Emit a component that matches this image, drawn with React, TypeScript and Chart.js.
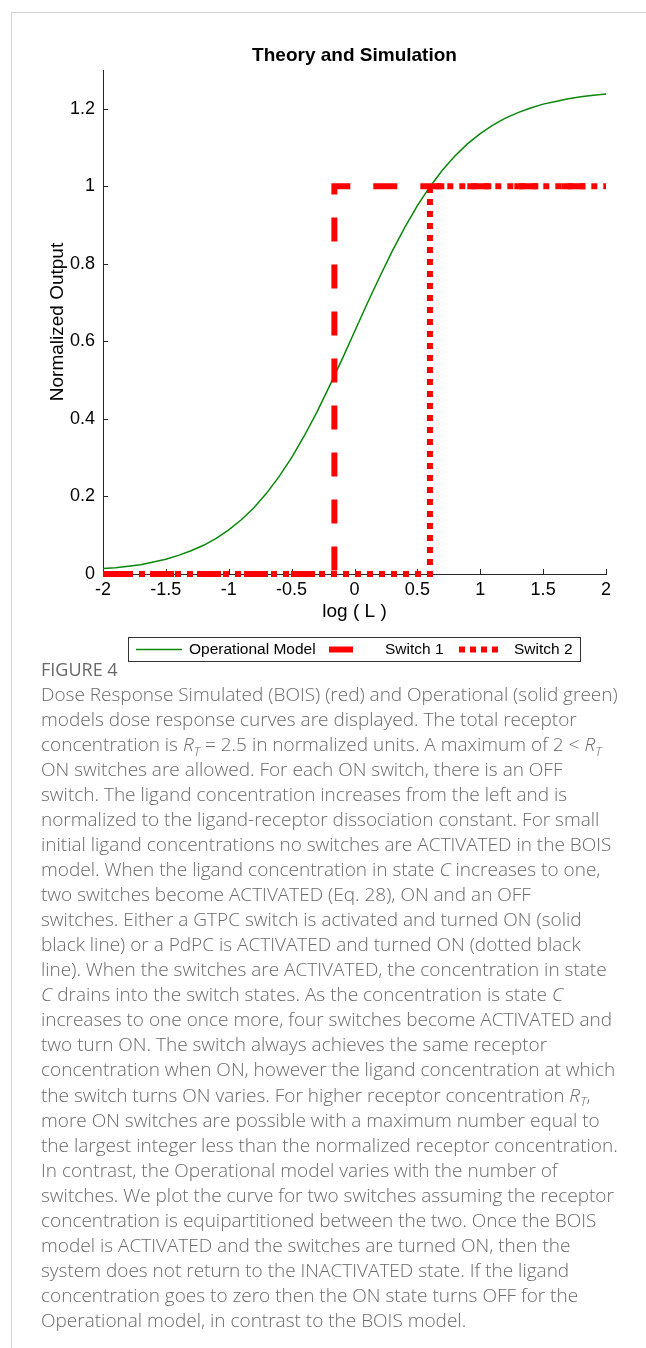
import React, { useEffect, useRef } from "react";
import { Chart, registerables } from "chart.js";

Chart.register(...registerables);

// ---------- data ----------
const chartTitle = "Theory and Simulation";
const xTitle = "log ( L )";
const yTitle = "Normalized Output";
const seriesLabels = ["Operational Model", "Switch 1", "Switch 2"];

const xTicks = [-2, -1.5, -1, -0.5, 0, 0.5, 1, 1.5, 2];
const yTicks = [0, 0.2, 0.4, 0.6, 0.8, 1, 1.2];

const opX = [
  -2, -1.9, -1.8, -1.7, -1.6, -1.5, -1.4, -1.3, -1.2, -1.1, -1, -0.9, -0.8, -0.7,
  -0.6, -0.5, -0.4, -0.3, -0.2, -0.1, 0, 0.1, 0.2, 0.3, 0.4, 0.5, 0.6, 0.7, 0.8,
  0.9, 1, 1.1, 1.2, 1.3, 1.4, 1.5, 1.6, 1.7, 1.8, 1.9, 2,
];
const opY = [
  0.014, 0.016, 0.02, 0.024, 0.031, 0.038, 0.048, 0.06, 0.074, 0.092, 0.114,
  0.14, 0.171, 0.208, 0.251, 0.3, 0.356, 0.417, 0.484, 0.553, 0.625, 0.697,
  0.766, 0.833, 0.894, 0.95, 0.999, 1.042, 1.079, 1.11, 1.136, 1.158, 1.176,
  1.19, 1.202, 1.212, 1.219, 1.226, 1.231, 1.235, 1.238,
];

const sw1X = [-2, -0.16, -0.16, 2];
const sw1Y = [0, 0, 1, 1];
const sw2X = [-2, 0.6, 0.6, 2];
const sw2Y = [0, 0, 1, 1];

const captionHead = "FIGURE 4";
// {R} = italic R with subscript T, {C} = italic C
const captionLines = [
  "Dose Response Simulated (BOIS) (red) and Operational (solid green)",
  "models dose response curves are displayed. The total receptor",
  "concentration is {R} = 2.5 in normalized units. A maximum of 2 < {R}",
  "ON switches are allowed. For each ON switch, there is an OFF",
  "switch. The ligand concentration increases from the left and is",
  "normalized to the ligand-receptor dissociation constant. For small",
  "initial ligand concentrations no switches are ACTIVATED in the BOIS",
  "model. When the ligand concentration in state {C} increases to one,",
  "two switches become ACTIVATED (Eq. 28), ON and an OFF",
  "switches. Either a GTPC switch is activated and turned ON (solid",
  "black line) or a PdPC is ACTIVATED and turned ON (dotted black",
  "line). When the switches are ACTIVATED, the concentration in state",
  "{C} drains into the switch states. As the concentration is state {C}",
  "increases to one once more, four switches become ACTIVATED and",
  "two turn ON. The switch always achieves the same receptor",
  "concentration when ON, however the ligand concentration at which",
  "the switch turns ON varies. For higher receptor concentration {R},",
  "more ON switches are possible with a maximum number equal to",
  "the largest integer less than the normalized receptor concentration.",
  "In contrast, the Operational model varies with the number of",
  "switches. We plot the curve for two switches assuming the receptor",
  "concentration is equipartitioned between the two. Once the BOIS",
  "model is ACTIVATED and the switches are turned ON, then the",
  "system does not return to the INACTIVATED state. If the ligand",
  "concentration goes to zero then the ON state turns OFF for the",
  "Operational model, in contrast to the BOIS model.",
];

// ---------- styles ----------
const FONT = "'Liberation Sans', Arial, Helvetica, sans-serif";
const GREEN = "#088808";
const RED = "#ff0000";
const AXIS = "#262626";
const DASH1 = [24, 23];
const DASH2 = [6, 6];

const toPts = (xs: number[], ys: number[]) => xs.map((x, i) => ({ x, y: ys[i] }));

const centeredTitle = {
  id: "centeredTitle",
  afterDraw(chart: any) {
    const { ctx, chartArea } = chart;
    ctx.save();
    ctx.fillStyle = "#000";
    ctx.font = `bold 19px ${FONT}`;
    ctx.textAlign = "center";
    ctx.textBaseline = "middle";
    ctx.fillText(chartTitle, (chartArea.left + chartArea.right) / 2, 56);
    ctx.restore();
  },
};

const inwardTicks = {
  id: "inwardTicks",
  beforeDatasetsDraw(chart: any) {
    const { ctx, chartArea, scales } = chart;
    ctx.save();
    ctx.strokeStyle = AXIS;
    ctx.lineWidth = 1;
    ctx.beginPath();
    scales.x.ticks.forEach((t: any) => {
      const px = Math.round(scales.x.getPixelForValue(t.value)) + 0.5;
      ctx.moveTo(px, chartArea.bottom);
      ctx.lineTo(px, chartArea.bottom - 5);
    });
    scales.y.ticks.forEach((t: any) => {
      const py = Math.round(scales.y.getPixelForValue(t.value)) + 0.5;
      ctx.moveTo(chartArea.left, py);
      ctx.lineTo(chartArea.left + 5, py);
    });
    ctx.stroke();
    ctx.restore();
  },
};

const boxLegend = {
  id: "boxLegend",
  afterDraw(chart: any) {
    const { ctx } = chart;
    const ds = chart.data.datasets;
    const bx = 128.5, by = 637.5, bw = 452, bh = 24;
    const cy = by + bh / 2;
    ctx.save();
    ctx.fillStyle = "#ffffff";
    ctx.fillRect(bx, by, bw, bh);
    ctx.strokeStyle = "#333333";
    ctx.lineWidth = 1;
    ctx.strokeRect(bx, by, bw, bh);

    const items = [
      { s0: 136, s1: 182, tx: 189 },
      { s0: 329, s1: 353, tx: 385 },
      { s0: 459, s1: 499, tx: 514 },
    ];
    items.forEach((it, i) => {
      const d = ds[i];
      ctx.strokeStyle = d.borderColor;
      ctx.lineWidth = d.borderWidth;
      ctx.setLineDash(i === 2 ? [6, 5] : []);
      ctx.lineCap = "butt";
      ctx.beginPath();
      ctx.moveTo(it.s0, cy);
      ctx.lineTo(it.s1, cy);
      ctx.stroke();
      ctx.setLineDash([]);
      ctx.fillStyle = "#000";
      ctx.font = `15.5px ${FONT}`;
      ctx.textBaseline = "middle";
      ctx.textAlign = "left";
      ctx.fillText(d.label, it.tx, cy + 0.5);
    });
    ctx.restore();
  },
};

function CaptionLine({ text }: { text: string }) {
  const parts = text.split(/(\{R\}|\{C\})/);
  return (
    <div style={{ whiteSpace: "nowrap", height: 25.04, lineHeight: "25.04px" }}>
      {parts.map((p, i) => {
        if (p === "{R}")
          return (
            <span key={i}>
              <i>R</i>
              <span
                style={{
                  fontStyle: "italic",
                  fontSize: "0.68em",
                  position: "relative",
                  top: "0.35em",
                  lineHeight: 0,
                }}
              >
                T
              </span>
            </span>
          );
        if (p === "{C}") return <i key={i}>C</i>;
        return <span key={i}>{p}</span>;
      })}
    </div>
  );
}

export default function App() {
  const ref = useRef<HTMLCanvasElement | null>(null);

  useEffect(() => {
    if (!ref.current) return;
    const chart = new Chart(ref.current, {
      type: "scatter",
      data: {
        datasets: [
          {
            label: seriesLabels[0],
            data: toPts(opX, opY),
            showLine: true,
            borderColor: GREEN,
            backgroundColor: GREEN,
            borderWidth: 1.5,
            pointRadius: 0,
            tension: 0,
            order: 3,
          },
          {
            label: seriesLabels[1],
            data: toPts(sw1X, sw1Y),
            showLine: true,
            borderColor: RED,
            backgroundColor: RED,
            borderWidth: 6,
            borderDash: DASH1,
            borderCapStyle: "butt",
            pointRadius: 0,
            tension: 0,
            clip: false,
            order: 2,
          },
          {
            label: seriesLabels[2],
            data: toPts(sw2X, sw2Y),
            showLine: true,
            borderColor: RED,
            backgroundColor: RED,
            borderWidth: 6,
            borderDash: DASH2,
            borderCapStyle: "butt",
            pointRadius: 0,
            tension: 0,
            clip: false,
            order: 1,
          },
        ],
      } as any,
      options: {
        animation: false,
        responsive: false,
        events: [],
        layout: { padding: { left: 0, right: 40, top: 70, bottom: 0 } },
        plugins: {
          legend: { display: false },
          tooltip: { enabled: false },
          title: { display: false },
        },
        scales: {
          x: {
            type: "linear",
            min: -2,
            max: 2,
            afterBuildTicks: (s: any) => {
              s.ticks = xTicks.map((v) => ({ value: v }));
            },
            afterFit: (s: any) => {
              s.height = 106;
            },
            grid: { display: false, drawTicks: false, tickLength: 0 },
            border: { display: true, color: AXIS, width: 1 },
            ticks: {
              color: "#000",
              font: { family: FONT, size: 18, lineHeight: 1.2 },
              padding: 5,
              maxRotation: 0,
              autoSkip: false,
              callback: (v: any) => String(v),
            },
            title: {
              display: true,
              text: xTitle,
              color: "#000",
              font: { family: FONT, size: 19, lineHeight: 1.2 },
              padding: { top: 0, bottom: 57 },
            },
          },
          y: {
            type: "linear",
            min: 0,
            max: 1.3,
            afterBuildTicks: (s: any) => {
              s.ticks = yTicks.map((v) => ({ value: v }));
            },
            afterFit: (s: any) => {
              s.width = 103;
            },
            grid: { display: false, drawTicks: false, tickLength: 0 },
            border: { display: true, color: AXIS, width: 1 },
            ticks: {
              color: "#000",
              font: { family: FONT, size: 18, lineHeight: 1.2 },
              padding: 8,
              autoSkip: false,
              callback: (v: any) => String(v),
            },
            title: {
              display: true,
              text: yTitle,
              color: "#000",
              font: { family: FONT, size: 19, lineHeight: 1.2 },
              padding: { top: 46, bottom: 0 },
            },
          },
        },
      } as any,
      plugins: [inwardTicks, boxLegend, centeredTitle],
    });
    return () => chart.destroy();
  }, []);

  return (
    <div
      style={{
        position: "absolute",
        left: 0,
        top: 0,
        width: 646,
        height: 1348,
        background: "#fff",
        overflow: "hidden",
      }}
    >
      <div
        style={{
          position: "absolute",
          left: 11,
          top: 12,
          right: 0,
          bottom: 0,
          borderTop: "1px solid #d4d4d4",
          borderLeft: "1px solid #d4d4d4",
        }}
      />
      <canvas
        ref={ref}
        width={646}
        height={680}
        style={{ position: "absolute", left: 0, top: 0, width: 646, height: 680 }}
      />
      <div
        style={{
          position: "absolute",
          left: 41,
          top: 656,
          fontFamily: "'Open Sans', 'Noto Sans', sans-serif",
          color: "#6a6a6a",
        }}
      >
        <div style={{ fontSize: 18, lineHeight: "26px", height: 26, color: "#686868" }}>
          {captionHead}
        </div>
        <div style={{ fontSize: 19, fontWeight: 300 }}>
          {captionLines.map((l, i) => (
            <CaptionLine key={i} text={l} />
          ))}
        </div>
      </div>
    </div>
  );
}
